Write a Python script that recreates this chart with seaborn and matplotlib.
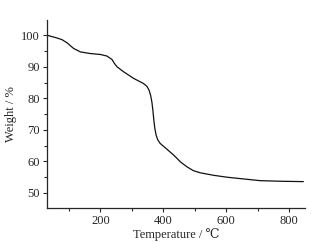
import pandas as pd
import matplotlib.pyplot as plt
import seaborn as sns
from matplotlib.ticker import MultipleLocator

temperature = [32, 41, 60, 78, 94, 115, 137, 168, 200, 221, 237, 245, 253, 274, 306, 337, 348, 355,
               360, 364, 367, 370, 373, 377, 382, 390, 410, 433, 455, 475, 495, 517, 560, 602, 650, 708, 780, 845]
weight = [100.0, 99.7, 99.2, 98.6, 97.6, 95.8, 94.7, 94.2, 93.9, 93.4, 92.3, 91.0, 90.0, 88.4, 86.3, 84.7, 83.8, 82.5,
          80.8, 78.6, 76.0, 73.0, 70.5, 68.4, 66.9, 65.7, 64.0, 62.0, 59.8, 58.3, 57.1, 56.4, 55.6, 55.0, 54.5, 53.9, 53.7, 53.6]

df = pd.DataFrame({"Temperature": temperature, "Weight": weight})

sns.set_style("ticks")
plt.rcParams["font.family"] = ["Liberation Serif", "DejaVu Serif"]

fig = plt.figure(figsize=(3.21, 2.42), dpi=100)
ax = fig.add_axes([0.146, 0.14, 0.804, 0.777])

sns.lineplot(data=df, x="Temperature", y="Weight", color="#111111", linewidth=0.9, ax=ax)

ax.set_xlim(30, 850)
ax.set_ylim(45.2, 104.8)
ax.xaxis.set_major_locator(MultipleLocator(200))
ax.xaxis.set_minor_locator(MultipleLocator(100))
ax.yaxis.set_major_locator(MultipleLocator(10))
ax.yaxis.set_minor_locator(MultipleLocator(5))
ax.tick_params(which="major", length=3, width=0.8, labelsize=9, pad=2)
ax.tick_params(which="minor", length=2, width=0.8)
ax.set_xlabel("Temperature / ℃", fontsize=9, labelpad=1)
ax.set_ylabel("Weight / %", fontsize=9, labelpad=3)
sns.despine(ax=ax)
for s in ["left", "bottom"]:
    ax.spines[s].set_linewidth(0.9)

plt.savefig("out.png", dpi=100)
